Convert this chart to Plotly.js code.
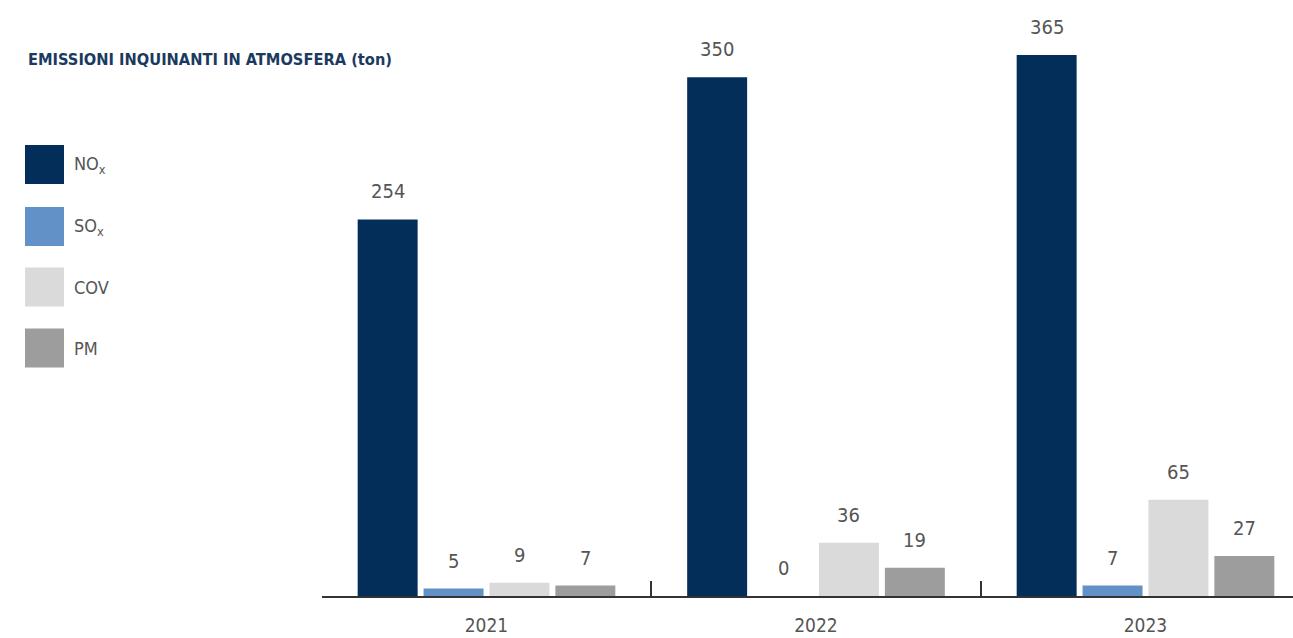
<!DOCTYPE html>
<html>
<head>
<meta charset="utf-8">
<script src="https://cdn.plot.ly/plotly-3.0.1.min.js"></script>
<style>html,body{margin:0;padding:0;background:#fff;}#chart{width:1293px;height:638px;}</style>
</head>
<body>
<div id="chart"></div>
<script>
const years = ["2021", "2022", "2023"];
const seriesNames = ["NO<sub>x</sub>", "SO<sub>x</sub>", "COV", "PM"];
const nox = [254, 350, 365];
const sox = [5, 0, 7];
const cov = [9, 36, 65];
const pm = [7, 19, 27];
const colors = ["#032e5a", "#6291c7", "#dadada", "#9d9d9d"];
const titleText = "EMISSIONI INQUINANTI IN ATMOSFERA (ton)";

const allValues = [nox, sox, cov, pm];
const W = 1293, H = 638;
const L = 321.75, T = 3, B = 42;
const font = "'DejaVu Sans Condensed', 'Liberation Sans Narrow', sans-serif";
const bargap = 0.2, bargroupgap = 0.09;

const traces = allValues.map((vals, j) => ({
  type: "bar",
  name: seriesNames[j],
  x: years,
  y: vals,
  marker: {color: colors[j], line: {width: 0}},
  hoverinfo: "skip",
  showlegend: false
}));

const px = v => v / W;
const py = v => (H - B - v) / (H - T - B);

const annotations = [];
const slot = (1 - bargap) / allValues.length;
allValues.forEach((vals, j) => {
  vals.forEach((v, i) => {
    annotations.push({
      x: i - (1 - bargap) / 2 + slot * (j + 0.5), y: v, xref: "x", yref: "y",
      text: String(v), showarrow: false, yanchor: "middle", yshift: 28,
      font: {family: font, size: 20, color: "#555555"}
    });
  });
});

annotations.push({
  xref: "paper", yref: "paper", x: px(26), y: py(60), xanchor: "left", yanchor: "middle",
  text: "<b>" + titleText + "</b>", showarrow: false,
  font: {family: font, size: 16.3, color: "#1b3a60"}
});

const shapes = [];
const legendY = [164.5, 226.5, 287, 348];
seriesNames.forEach((n, j) => {
  shapes.push({type: "rect", xref: "paper", yref: "paper",
    x0: px(25), x1: px(64), y0: py(legendY[j] - 19.5), y1: py(legendY[j] + 19.5),
    fillcolor: colors[j], line: {width: 0}});
  annotations.push({xref: "paper", yref: "paper", x: px(72), y: py(legendY[j]),
    xanchor: "left", yanchor: "middle", text: n, showarrow: false,
    font: {family: font, size: 18, color: "#555555"}});
});

const layout = {
  width: W, height: H,
  margin: {l: 0, r: 0, t: T, b: B, pad: 0},
  paper_bgcolor: "#ffffff", plot_bgcolor: "#ffffff",
  barmode: "group", bargap: bargap, bargroupgap: bargroupgap,
  showlegend: false,
  xaxis: {
    domain: [L / W, 1], type: "category", range: [-0.5, -0.5 + (W - L) / 329.5],
    showline: true, linecolor: "#333333", linewidth: 2,
    ticks: "inside", tickson: "boundaries", ticklen: 15, tickwidth: 2, tickcolor: "#333333",
    showgrid: false, zeroline: false, ticklabelstandoff: 11,
    tickfont: {family: font, size: 19, color: "#555555"}
  },
  yaxis: {range: [0, 400], visible: false, showgrid: false, zeroline: false},
  annotations: annotations,
  shapes: shapes
};

Plotly.newPlot("chart", traces, layout, {displayModeBar: false, staticPlot: true});
</script>
</body>
</html>
